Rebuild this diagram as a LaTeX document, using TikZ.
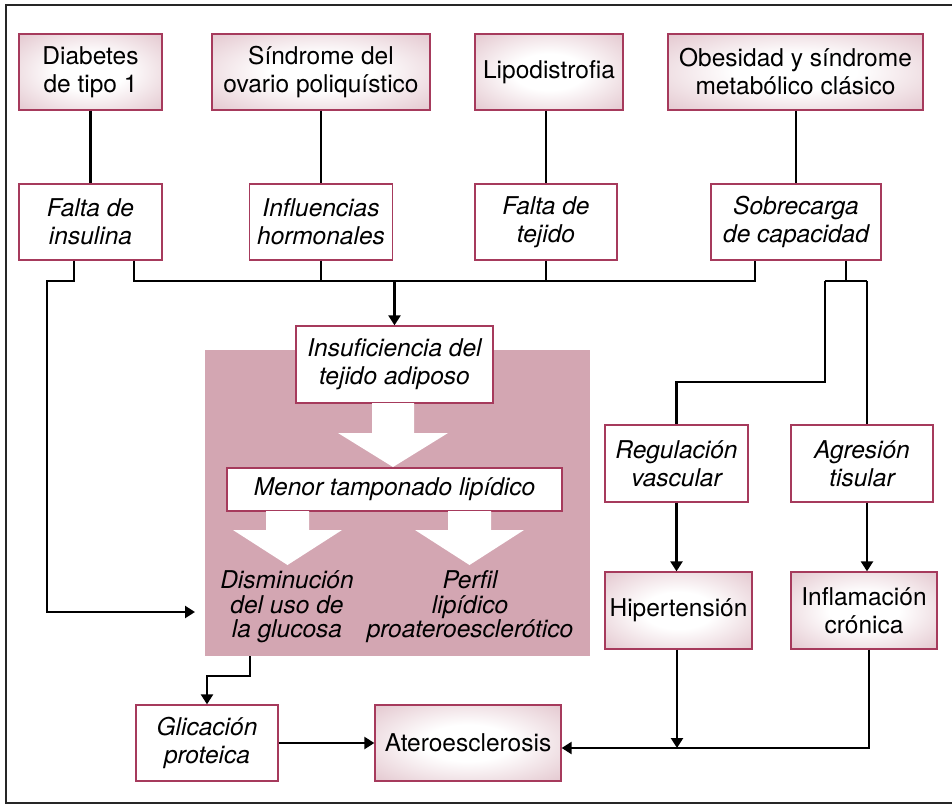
\documentclass[tikz,border=0pt]{standalone}
\usepackage{fontspec}
\setmainfont{TeX Gyre Heros}
\usetikzlibrary{arrows.meta,calc}
\definecolor{pinkfill}{HTML}{D3A6B2}
\definecolor{bordercol}{HTML}{A63A5C}
\pgfdeclareradialshading{glow}{\pgfpoint{0bp}{0bp}}{color(0bp)=(white); color(12bp)=(white); color(50bp)=(pinkfill); color(72bp)=(pinkfill)}
\tikzset{
  base/.style={line width=1.3pt, draw=bordercol, align=center, inner sep=2pt,
    font=\fontsize{24.5}{28}\selectfont},
  shadebox/.style={base, shading=glow},
  whitebox/.style={base, fill=white, font=\fontsize{24.5}{28}\selectfont\itshape},
  line/.style={line width=2.3pt, draw=black},
  arrow/.style={line, -{Triangle[width=12pt,length=10pt]}},
  pinktext/.style={align=center, inner sep=0pt, font=\fontsize{24.5}{24.5}\selectfont\itshape}
}
\begin{document}
\begin{tikzpicture}[x=1pt,y=-1pt]
\useasboundingbox (0,0) rectangle (952,806);
% frame
\draw[line width=2.2pt, draw=black!85] (952,5) -- (6,5) -- (6,803) -- (952,803);
% pink region
\node[fill=pinkfill, draw=none, minimum width=385pt, minimum height=306pt, inner sep=0pt] (pinkreg) at (397.5,503) {};
% top row
\node[shadebox, minimum width=143pt, minimum height=76pt] (dm1) at (90.5,72) {Diabetes\\de tipo 1};
\node[shadebox, minimum width=218pt, minimum height=76pt] (sop) at (321,72) {Síndrome del\\ovario poliquístico};
\node[shadebox, minimum width=148pt, minimum height=76pt] (lipo) at (549,72) {Lipodistrofia};
\node[shadebox, minimum width=255pt, minimum height=76pt] (obes) at (795.5,72) {Obesidad y síndrome\\metabólico clásico};
% second row
\node[whitebox, minimum width=143pt, minimum height=76pt] (fins) at (90.5,222) {Falta de\\insulina};
\node[whitebox, minimum width=143pt, minimum height=76pt] (infh) at (321,222) {Influencias\\hormonales};
\node[whitebox, minimum width=142pt, minimum height=76pt] (ftej) at (546,222) {Falta de\\tejido};
\node[whitebox, minimum width=170pt, minimum height=76pt] (sobr) at (796,222) {Sobrecarga\\de capacidad};
% inside pink
\node[whitebox, minimum width=197pt, minimum height=77pt] (insuf) at (394.5,364.5) {Insuficiencia del\\tejido adiposo};
\node[whitebox, minimum width=335pt, minimum height=43pt] (menor) at (394.5,489.5) {Menor tamponado lipídico};
\fill[white] (372,403) -- (414,403) -- (414,433) -- (448,433) -- (393,467) -- (338,433) -- (372,433) -- cycle;
\fill[white] (266,511) -- (309,511) -- (309,530) -- (342,530) -- (287.5,565) -- (233,530) -- (266,530) -- cycle;
\fill[white] (448,511) -- (491,511) -- (491,530) -- (524,530) -- (469.5,565) -- (415,530) -- (448,530) -- cycle;
\node[pinktext] (dism) at (287,607) {Disminución\\del uso de\\la glucosa};
\node[pinktext] (perf) at (470,607) {Perfil\\lipídico\\proateroesclerótico};
% right side
\node[whitebox, minimum width=143pt, minimum height=77pt] (regul) at (676.5,463.5) {Regulación\\vascular};
\node[whitebox, minimum width=142pt, minimum height=77pt] (agres) at (862,463.5) {Agresión\\tisular};
\node[shadebox, minimum width=147pt, minimum height=77pt] (hiper) at (678.5,610.5) {Hipertensión};
\node[shadebox, minimum width=146pt, minimum height=77pt] (infl) at (864,610.5) {Inflamación\\crónica};
% bottom
\node[whitebox, minimum width=142pt, minimum height=76pt] (glic) at (207,743) {Glicación\\proteica};
\node[shadebox, minimum width=186pt, minimum height=76pt] (atero) at (468,743) {Ateroesclerosis};
% coordinates
\coordinate (xl) at (74,260);
\coordinate (lbus) at (47,281);
\coordinate (larr) at (195,612);
\coordinate (busA) at (134,281);
\coordinate (busB) at (755,281);
\coordinate (sr) at (846,281);
\coordinate (sl) at (825,281);
\coordinate (sm) at (867,281);
\coordinate (sbend) at (825,382);
\coordinate (aline) at (869,748);
\coordinate (hx) at (677,748);
\coordinate (pb) at (250,676);
% connectors top
\draw[line] (dm1.south) -- (fins.north);
\draw[line] (sop.south) -- (infh.north);
\draw[line] (ftej.north |- lipo.south) -- (ftej.north);
\draw[line] (obes.south -| sobr.north) -- (sobr.north);
% bus
\draw[arrow] (fins.south -| xl) |- (lbus) |- (larr);
\draw[line] (fins.south -| busA) -- (busA) -- (busB) -- (sobr.south -| busB);
\draw[line] (infh.south) -- (infh.south |- busA);
\draw[line] (ftej.south) -- (ftej.south |- busA);
\draw[arrow] (insuf.north |- busA) -- (insuf.north);
% right branch
\draw[line] (sobr.south -| sr) -- (sr);
\draw[line] (sl) -- (sm);
\draw[line] (sl) -- (sbend) -| (regul.north);
\draw[line] (sm) -- (agres.north -| sm);
\draw[arrow] (regul.south) -- (regul.south |- hiper.north);
\draw[arrow] (agres.south -| sm) -- (infl.north -| sm);
% bottom connectors
\draw[arrow] (infl.south -| aline) -- (aline) -- (atero.east |- aline);
\draw[arrow] (hiper.south -| hx) -- (hx);
\draw[arrow] (pinkreg.south -| pb) -- (pb) -| (glic.north);
\draw[arrow] (glic.east) -- (atero.west);
\end{tikzpicture}
\end{document}
